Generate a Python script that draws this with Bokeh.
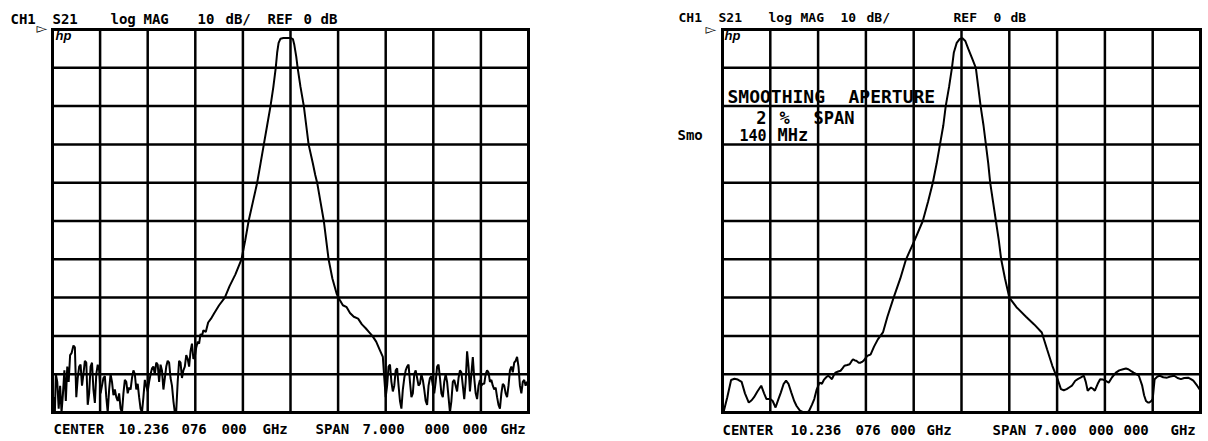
import numpy as np
from bokeh.plotting import figure
from bokeh.models import Label, Range1d
from bokeh.layouts import row
from bokeh.embed import file_html
from bokeh.resources import INLINE

# ---------------- instrument settings ----------------
CENTER_GHZ = 10.236076
SPAN_GHZ = 7.0
REF_DB = 0.0
DB_PER_DIV = 10.0
N_DIV = 10

# ---------------- data (x in screen divisions 0..10, y in dB) ----------------
raw_div = [
    0.00, 0.02, 0.05, 0.07, 0.10, 0.13, 0.16, 0.19, 0.22, 0.25, 0.28, 0.31, 0.34, 0.37, 0.40, 0.44,
    0.47, 0.50, 0.53, 0.56, 0.59, 0.62, 0.65, 0.68, 0.71, 0.74, 0.77, 0.80, 0.83, 0.86, 0.89, 0.92,
    0.95, 0.98, 1.01, 1.04, 1.07, 1.10, 1.13, 1.16, 1.19, 1.22, 1.25, 1.28, 1.31, 1.34, 1.37, 1.40,
    1.43, 1.46, 1.49, 1.52, 1.55, 1.58, 1.61, 1.64, 1.67, 1.70, 1.73, 1.76, 1.79, 1.82, 1.85, 1.88,
    1.91, 1.94, 1.97, 2.00, 2.03, 2.06, 2.09, 2.12, 2.15, 2.18, 2.21, 2.24, 2.27, 2.30, 2.33, 2.36,
    2.39, 2.42, 2.45, 2.48, 2.51, 2.54, 2.57, 2.60, 2.63, 2.66, 2.69, 2.72, 2.75, 2.78, 2.81, 2.84,
    2.87, 2.90, 2.93, 2.96, 2.99, 3.02, 3.05, 3.08, 3.11, 3.14, 3.17,
    3.22, 3.27, 3.33, 3.40, 3.50, 3.62, 3.72, 3.84, 3.97, 4.05, 4.12, 4.21, 4.30, 4.37, 4.44, 4.51,
    4.58, 4.64, 4.69, 4.72, 4.75, 4.79, 4.85, 5.00, 5.05, 5.08, 5.12, 5.15, 5.21, 5.28, 5.33, 5.38,
    5.47, 5.52, 5.56, 5.63, 5.70, 5.75, 5.80, 5.88, 5.97, 6.03, 6.10, 6.18, 6.25, 6.33, 6.42, 6.50,
    6.58, 6.65, 6.72, 6.80, 6.87, 6.94,
    6.97, 7.00, 7.03, 7.06, 7.09, 7.12, 7.15, 7.18, 7.21, 7.24, 7.27, 7.30, 7.33, 7.36, 7.39, 7.42,
    7.45, 7.48, 7.51, 7.54, 7.57, 7.60, 7.63, 7.66, 7.69, 7.72, 7.75, 7.78, 7.81, 7.84, 7.87, 7.90,
    7.93, 7.96, 7.99, 8.02, 8.05, 8.08, 8.11, 8.14, 8.17, 8.20, 8.23, 8.26, 8.29, 8.32, 8.35, 8.38,
    8.41, 8.44, 8.47, 8.50, 8.53, 8.56, 8.59, 8.62, 8.65, 8.68, 8.71, 8.74, 8.77, 8.80, 8.83, 8.86,
    8.89, 8.92, 8.95, 8.98, 9.01, 9.04, 9.07, 9.10, 9.13, 9.16, 9.19, 9.22, 9.25, 9.28, 9.31, 9.34,
    9.37, 9.40, 9.43, 9.46, 9.49, 9.52, 9.55, 9.58, 9.61, 9.64, 9.67, 9.70, 9.73, 9.76, 9.79, 9.82,
    9.85, 9.88, 9.91, 9.94, 9.97, 10.00,
]
raw_db = [
    -97, -96, -100, -90, -92, -99, -93, -100, -95, -89, -97, -88, -92, -85, -84.5, -82.5,
    -83, -96, -91, -88, -87.5, -93, -90, -86.5, -87, -98, -95, -88, -87, -94, -97.5, -90,
    -87.5, -89, -95, -93, -91, -90.5, -96, -100, -94, -90, -92, -95.5, -94, -96, -97, -95,
    -99, -100, -95, -91.5, -92, -95, -93.5, -94, -91, -89, -90, -94, -92.5, -96, -99, -100,
    -96, -91.5, -93, -94.5, -92, -90, -88.5, -88, -90, -87, -87.5, -92, -87.5, -89, -94, -91,
    -88, -86.5, -87, -91, -93, -97, -100, -99.5, -92, -86.5, -87, -91, -89, -88, -85, -86,
    -88, -84, -82, -86, -85.5, -83, -81.5, -82, -79.5, -80, -78.5,
    -79, -76.5, -75.5, -74, -72, -70, -67, -64, -60, -55, -50, -45, -40, -35, -30, -25,
    -20, -15, -10, -6, -3.5, -2.4, -2.2, -2.2, -2.5, -4, -7, -10, -15, -20, -25, -30,
    -35, -38, -40, -45, -50, -55, -60, -65, -69, -70.5, -72, -72.5, -74, -75, -75.5, -77,
    -78, -79, -80, -81.5, -83.5, -85.5,
    -91, -96, -93, -88, -87.5, -92, -94.5, -93, -89, -88.5, -93, -97, -99, -94, -91, -89,
    -88, -87.5, -92, -96, -95, -90, -89, -91, -93, -92.5, -90, -91.5, -94, -97, -98, -93,
    -91, -90.5, -93, -95, -92, -88, -87.5, -91, -95, -96, -92, -90, -92, -96, -100, -97,
    -92, -91.5, -93, -94.5, -91, -89, -89.5, -93, -96.5, -92, -84, -88, -94.5, -90, -85.5, -91,
    -95, -96.5, -93, -91.5, -93, -92.5, -92.5, -90, -89, -89.5, -92, -91.5, -93, -94, -93.5, -96,
    -98, -99, -95, -92.5, -93, -95, -96, -93, -89, -88, -89.5, -87, -86.5, -85.5, -88, -93,
    -95, -92, -91.5, -93, -92, -92.5,
]

smooth_div = [
    0.02, 0.10, 0.18, 0.25, 0.32, 0.40, 0.47, 0.55, 0.61, 0.66, 0.73, 0.81, 0.87, 0.92, 1.00, 1.05,
    1.11, 1.17, 1.22, 1.28, 1.33, 1.38, 1.44, 1.50, 1.55, 1.62, 1.70, 1.76, 1.81, 1.87, 1.92, 1.97,
    2.03, 2.08, 2.12, 2.17, 2.21, 2.25, 2.29, 2.33, 2.36, 2.42, 2.47, 2.51, 2.55, 2.61, 2.66, 2.70,
    2.73, 2.77, 2.80, 2.85, 2.88, 2.92, 2.95, 3.00, 3.03, 3.07, 3.10, 3.17, 3.25, 3.36, 3.45, 3.58,
    3.72, 3.84, 4.02, 4.19, 4.30, 4.40, 4.48, 4.55, 4.62, 4.67, 4.74, 4.80, 4.84, 4.90, 4.96, 5.02,
    5.08, 5.14, 5.22, 5.30, 5.35, 5.40, 5.46, 5.51, 5.56, 5.60, 5.66, 5.72, 5.78, 5.83, 5.91, 6.00,
    6.15, 6.35, 6.52, 6.68, 6.79, 6.90, 7.01, 7.08, 7.14, 7.20, 7.26, 7.31, 7.38, 7.44, 7.49, 7.56,
    7.60, 7.64, 7.68, 7.71, 7.75, 7.79, 7.85, 7.90, 7.96, 8.01, 8.08, 8.15, 8.23, 8.30, 8.38, 8.44,
    8.49, 8.55, 8.60, 8.66, 8.71, 8.78, 8.82, 8.86, 8.90, 8.93, 8.97, 9.00, 9.04, 9.10, 9.15, 9.22,
    9.30, 9.37, 9.45, 9.52, 9.59, 9.66, 9.74, 9.80, 9.85, 9.93, 10.00,
]
smooth_db = [
    -100, -96, -91.5, -91.2, -91.4, -92, -95, -97.4, -96.8, -96, -94.5, -93, -95, -96.5, -96.5, -97,
    -98.7, -96.5, -94.8, -92.5, -91.7, -92.5, -94.8, -97, -98.3, -99.5, -100, -100, -99.6, -98, -96.5, -94,
    -92.2, -92.5, -91.5, -90.8, -90.4, -90.8, -91.3, -90.2, -89.6, -89.3, -89.1, -88.5, -87.8, -87.6, -87.4, -86.6,
    -86.1, -86.4, -86.5, -87.0, -87.0, -86.8, -86.5, -85.7, -85.2, -85.0, -84.8, -82.8, -80.9, -79, -75, -70,
    -65, -60, -55, -50, -45, -40, -35, -30, -25, -20, -15, -10, -6, -3.5, -2.5, -2.3,
    -3, -5, -7.5, -10, -15, -20, -25, -30, -35, -40, -45, -50, -55, -60, -65, -70,
    -72.5, -75, -77, -79.1, -83.5, -87.8, -91.3, -93.9, -94.2, -93.9, -93.4, -93.0, -91.7, -91.2, -90.9, -90.4,
    -92, -94.3, -93.8, -93.5, -93.8, -94.3, -92.5, -91.3, -91.4, -91.7, -92.2, -90.8, -89.6, -89.0, -88.7, -88.5,
    -88.7, -89.2, -89.6, -90.0, -90.4, -93.0, -95.5, -97.0, -97.4, -97.4, -97.0, -96.5, -91.3, -90.6, -90.4, -90.8,
    -90.9, -90.6, -90.4, -91.0, -91.3, -91.0, -90.9, -91.3, -91.7, -93.0, -94.3,
]

header_tokens = ["CH1", "S21", "log", "MAG", "10", "dB/", "REF", "0", "dB"]
footer_tokens = ["CENTER", "10.236", "076", "000", "GHz", "SPAN", "7.000", "000", "000", "GHz"]
smooth_info = ["SMOOTHING", "APERTURE", "2", "%", "SPAN", "140", "MHz"]

# ---------------- layout (page pixels) ----------------
H = 438                 # figure height
GRID_TOP = 29           # graticule top (page y)
GRID_H = 383            # graticule height
W1, GL1, GW1 = 604, 52, 476     # panel 1: figure width, graticule left, graticule width
W2, GL2, GW2 = 600, 118, 478    # panel 2 (figure starts at page x = W1)

f_start = CENTER_GHZ - SPAN_GHZ / 2
f_stop = CENTER_GHZ + SPAN_GHZ / 2
div_ghz = SPAN_GHZ / N_DIV
db_bottom = REF_DB - N_DIV * DB_PER_DIV
x_div_lines = [f_start + k * div_ghz for k in range(N_DIV + 1)]
y_div_lines = [REF_DB - k * DB_PER_DIV for k in range(N_DIV + 1)]


def make_panel(width, grid_left, grid_w):
    px_per_ghz = grid_w / SPAN_GHZ
    px_per_db = GRID_H / (N_DIV * DB_PER_DIV)
    x0 = f_start - grid_left / px_per_ghz
    y1 = REF_DB + GRID_TOP / px_per_db
    p = figure(width=width, height=H, min_border=0, title=None,
               x_axis_location=None, y_axis_location=None,
               x_range=Range1d(x0, x0 + width / px_per_ghz),
               y_range=Range1d(y1 - H / px_per_db, y1),
               output_backend="svg", toolbar_location=None)
    p.background_fill_color = "white"
    p.border_fill_color = "white"
    p.outline_line_color = None
    p.grid.visible = False
    inner_x = x_div_lines[1:-1]
    inner_y = y_div_lines[1:-1]
    p.segment(x0=inner_x, y0=[db_bottom] * len(inner_x), x1=inner_x, y1=[REF_DB] * len(inner_x),
              line_color="black", line_width=2.5)
    p.segment(x0=[f_start] * len(inner_y), y0=inner_y, x1=[f_stop] * len(inner_y), y1=inner_y,
              line_color="black", line_width=2.5)
    p.segment(x0=[f_start, f_stop, f_start, f_start], y0=[db_bottom, db_bottom, db_bottom, REF_DB],
              x1=[f_start, f_stop, f_stop, f_stop], y1=[REF_DB, REF_DB, db_bottom, REF_DB],
              line_color="black", line_width=3, line_cap="square")
    return p


def put(p, fig_left, txt, px, py, size, font="DejaVu Sans Mono", style="bold", align="left"):
    p.add_layout(Label(x=px - fig_left, y=H - py,
                       x_units="screen", y_units="screen", text=txt,
                       text_font=font, text_font_size=f"{size}px", text_font_style=style,
                       text_align=align, text_baseline="middle", text_color="black"))


p1 = make_panel(W1, GL1, GW1)
p1.line(f_start + np.array(raw_div) * div_ghz, raw_db, line_color="black", line_width=2)

p2 = make_panel(W2, GL2, GW2)
p2.line(f_start + np.array(smooth_div) * div_ghz, smooth_db, line_color="black", line_width=2)

X1, X2 = 0, W1   # page x of each figure

hdr1 = [10, 52, 110, 143, 197, 225, 267, 303, 320]
hdr2 = [678, 718, 768, 800, 840, 866, 953, 993, 1010]
for t, a, b in zip(header_tokens, hdr1, hdr2):
    put(p1, X1, t, a, 18, 14)
    put(p2, X2, t, b, 17, 13)

ftr1 = [53, 118, 181, 221, 262, 315, 362, 424, 462, 500]
ftr2 = [722, 790, 855, 890, 926, 992, 1034, 1088, 1123, 1170]
for t, a, b in zip(footer_tokens, ftr1, ftr2):
    put(p1, X1, t, a, 428, 14)
    put(p2, X2, t, b, 429, 14)

# reference-level markers and logos
put(p1, X1, "\u25bb", 36, 27, 14, font="DejaVu Sans", style="bold")
put(p2, X2, "\u25bb", 705, 28, 14, font="DejaVu Sans", style="bold")
put(p1, X1, "hp", 55, 35, 13, font="Liberation Sans", style="bold italic")
put(p2, X2, "hp", 724, 35, 13, font="Liberation Sans", style="bold italic")

# smoothing annotation on panel 2
put(p2, X2, smooth_info[0], 727, 96, 18)
put(p2, X2, smooth_info[1], 848, 96, 18)
put(p2, X2, smooth_info[2], 766, 117, 17, align="right")
put(p2, X2, smooth_info[3], 779, 117, 17)
put(p2, X2, smooth_info[4], 813, 117, 17)
put(p2, X2, smooth_info[5], 766, 134, 15, align="right")
put(p2, X2, smooth_info[6], 777, 134, 17)
put(p2, X2, "Smo", 677, 134, 14)

layout = row(p1, p2)
open("out.html", "w").write(file_html(layout, INLINE))
